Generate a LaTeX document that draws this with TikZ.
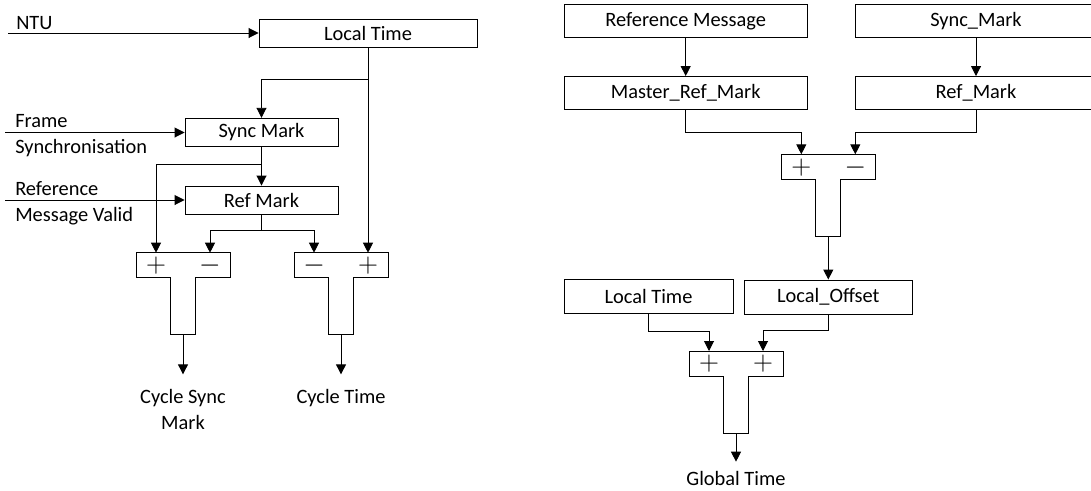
\documentclass[tikz,border=0pt]{standalone}
\usepackage{fontspec}
\setmainfont{Carlito}
\usetikzlibrary{arrows.meta}
\tikzset{
  blk/.style 2 args={draw, line width=0.7pt, inner sep=0pt,
    minimum width=#1*0.75pt, minimum height=#2*0.75pt},
  lbl/.style={inner sep=0pt, align=center},
  wire/.style={line width=0.7pt},
  arr/.style={line width=0.7pt, -{Triangle[length=7.5pt,width=7.5pt]}},
  sgn/.style={inner sep=0pt, font=\fontsize{22}{22}\selectfont},
}
% T shaped summing block: name, centre x, top y, left sign, right sign
\newcommand{\SumT}[5]{%
  \begin{scope}[shift={(#2,#3)}]
    \draw[wire] (-47,0) -- (47,0) -- (47,25) -- (12.5,25) -- (12.5,82)
      -- (-12.5,82) -- (-12.5,25) -- (-47,25) -- cycle;
    \coordinate (#1-a) at (-27,0);
    \coordinate (#1-b) at (27,0);
    \coordinate (#1-out) at (0,82);
    \node[sgn] (#1-sa) at (-27,13) {$#4$};
    \node[sgn] (#1-sb) at (27,13) {$#5$};
  \end{scope}%
}
\begin{document}
\begin{tikzpicture}[x=0.75pt, y=-0.75pt, font=\fontsize{15.3}{19.5}\selectfont]
  \useasboundingbox (0,0) rectangle (1091,490);

  % left diagram
  \node[blk={218}{28}] (ltime) at (368,33) {Local Time};
  \node[blk={153}{28.5}] (smark) at (261.5,132.5) {Sync Mark};
  \node[blk={153}{28}] (rmark) at (261.5,200) {Ref Mark};
  \SumT{sumA}{183}{252.7}{+}{-}
  \SumT{sumB}{341}{252.7}{-}{+}

  \node[lbl, anchor=west] (ntu) at (16,23) {NTU};
  \node[lbl, anchor=west, align=left] (fsync) at (15,136) {Frame\\Synchronisation};
  \node[lbl, anchor=west, align=left] (rvalid) at (15,203) {Reference\\Message Valid};
  \node[lbl, anchor=north] (csm) at (183,389) {Cycle Sync\\Mark};
  \node[lbl, anchor=north] (ctime) at (341,389) {Cycle Time};

  \coordinate (ntu-in) at (8,33);
  \coordinate (fsync-in) at (5,132.5);
  \coordinate (rvalid-in) at (5,200);
  \coordinate (jLT) at (368,79);
  \coordinate (jSM) at (261.5,164);
  \coordinate (jRM) at (261.5,230);

  \draw[arr] (ntu-in) -- (ltime.west);
  \draw[arr] (fsync-in) -- (smark.west);
  \draw[arr] (rvalid-in) -- (rmark.west);
  \draw[arr] (ltime.south) -- (sumB-b);
  \draw[arr] (jLT) -| (smark.north);
  \draw[arr] (smark.south) -- (rmark.north);
  \draw[arr] (jSM) -| (sumA-a);
  \draw[wire] (rmark.south) -- (jRM);
  \draw[arr] (jRM) -| (sumA-b);
  \draw[arr] (jRM) -| (sumB-a);
  \draw[arr, shorten >=11pt] (sumA-out) -- (csm.north);
  \draw[arr, shorten >=11pt] (sumB-out) -- (ctime.north);

  % right diagram
  \node[blk={243}{33}] (refmsg) at (685.7,21.2) {Reference Message};
  \node[blk={243}{33}] (mrmark) at (685.7,93) {Master\_Ref\_Mark};
  \node[blk={242}{33}] (syncm) at (976,21.2) {Sync\_Mark};
  \node[blk={242}{33}] (refm) at (976,93) {Ref\_Mark};
  \SumT{sumC}{828.3}{154.3}{+}{-}
  \node[blk={169}{34}] (ltime2) at (648.5,296.5) {Local Time};
  \node[blk={168}{34}] (loff) at (828.3,297) {Local\_Offset};
  \SumT{sumD}{736}{351}{+}{+}
  \node[lbl, anchor=north] (gtime) at (736,471) {Global Time};

  \draw[arr] (refmsg.south) -- (mrmark.north);
  \draw[arr] (syncm.south) -- (refm.north);
  \draw[arr] (mrmark.south) -- ++(0,22) -| (sumC-a);
  \draw[arr] (refm.south) -- ++(0,22) -| (sumC-b);
  \draw[arr] (sumC-out) -- (loff.north);
  \draw[arr] (ltime2.south) -- ++(0,17) -| (sumD-a);
  \draw[arr] (loff.south) -- ++(0,16) -| (sumD-b);
  \draw[arr, shorten >=7pt] (sumD-out) -- (gtime.north);
\end{tikzpicture}
\end{document}
